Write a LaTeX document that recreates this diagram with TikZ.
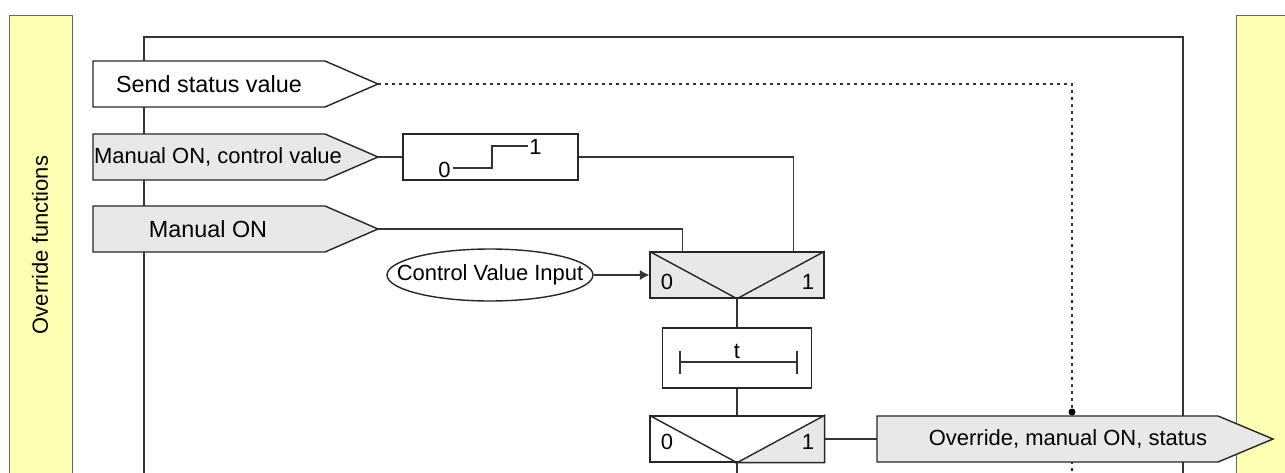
\documentclass[tikz,border=0pt]{standalone}
\usepackage{fontspec}
\setmainfont{Liberation Sans}
\usetikzlibrary{arrows.meta,shapes.geometric}

\definecolor{bandyellow}{HTML}{FFFFB4}
\definecolor{boxgray}{HTML}{E8E8E8}

\tikzset{
    wire/.style={draw=black!80, line width=0.6pt},
    boxline/.style={draw=black!85, line width=0.8pt},
    lbl/.style={font=\fontsize{12.5}{15}\selectfont, inner sep=0pt},
    biglbl/.style={font=\fontsize{13.3}{16}\selectfont, inner sep=0pt},
    digit/.style={font=\fontsize{12.5}{15}\selectfont, inner sep=0pt},
    muxbox/.style={boxline, rectangle, minimum width=3.48cm, minimum height=0.92cm, inner sep=0pt},
}

\begin{document}
\begin{tikzpicture}[x=0.02cm, y=-0.02cm]
    \clip (0,0) rectangle (1285,473);

    % Side bands
    \filldraw[fill=bandyellow, draw=black!60] (9,15) rectangle (72,490);
    \filldraw[fill=bandyellow, draw=black!60] (1236,15) rectangle (1300,490);
    \node[lbl, rotate=90] (band) at (40,245) {Override functions};

    % Frame
    \draw[wire] (144,480) -- (144,37) -- (1183,37) -- (1183,480);

    % Input signals
    \draw[boxline, fill=white] (93,61) -- ++(232,0) -- ++(53,23) coordinate (send tip) -- ++(-53,23) -- ++(-232,0) -- cycle;
    \node[biglbl] (send) at (209,84) {Send status value};
    \draw[boxline, fill=boxgray] (93,134) -- ++(232,0) -- ++(53,23) coordinate (ctrl tip) -- ++(-53,23) -- ++(-232,0) -- cycle;
    \node[lbl] (ctrl) at (218,157) {Manual ON, control value};
    \draw[boxline, fill=boxgray] (93,206) -- ++(232,0) -- ++(53,23) coordinate (man tip) -- ++(-53,23) -- ++(-232,0) -- cycle;
    \node[biglbl] (man) at (208,229) {Manual ON};

    % Step block
    \node[boxline, fill=white, minimum width=3.5cm, minimum height=0.92cm] (step) at (490.5,157) {};
    \draw[wire] (453,168) -- (492,168) -- (492,146) -- (528,146);
    \node[lbl, anchor=east] (s0) at (451,170) {0};
    \node[lbl, anchor=west] (s1) at (529,147) {1};
    \draw[wire] (ctrl tip) -- (step);

    % Selector
    \node[muxbox, fill=boxgray] (mux1) at (737,275) {};
    \draw[boxline] (mux1.north west) -- (mux1.south) -- (mux1.north east);
    \node[digit] (m1a) at (667,282) {0};
    \node[digit] (m1b) at (808,282) {1};
    \draw[wire] (man tip) -| ([xshift=0.66cm]mux1.north west);
    \draw[wire] (step.east) -| ([xshift=-0.62cm]mux1.north east);

    % Control value input
    \node[ellipse, boxline, lbl, minimum width=4.12cm, minimum height=1.04cm] (cvi) at (490,275) {\makebox[0pt]{Control Value Input}};
    \draw[wire, line width=1pt, -{Latex[length=0.19cm, width=0.21cm]}] (cvi) -- (mux1);

    % Delay
    \node[boxline, fill=white, minimum width=2.98cm, minimum height=1.2cm] (delay) at (737,358) {};
    \draw[wire] (680,362) -- (797,362);
    \draw[wire] (680,351) -- (680,374);
    \draw[wire] (797,351) -- (797,374);
    \node[digit, anchor=south] (dt) at (737,359) {t};
    \draw[wire] (mux1.south) -- (delay);

    % Output selector
    \node[muxbox, fill=white] (mux2) at (737,439) {};
    \filldraw[boxline, fill=boxgray] (mux2.south) -- (mux2.north east) -- (mux2.south east) -- cycle;
    \draw[boxline] (mux2.north west) -- (mux2.south);
    \node[digit] (m2a) at (667,442) {0};
    \node[digit] (m2b) at (808,442) {1};
    \draw[wire] (delay) -- (mux2);
    \draw[wire] (mux2.south) -- ++(0,20);

    % Status feedback
    \draw[wire, dash pattern=on 0.06cm off 0.08cm] (send tip) -- (1072,84) -- (1072,480);
    \fill (1072,412) circle (0.07cm);

    % Output signal
    \draw[boxline, fill=boxgray] (877,416) -- ++(341,0) -- ++(55,23) coordinate (ovr tip) -- ++(-55,23) -- ++(-341,0) -- cycle;
    \coordinate (ovr in) at (877,439);
    \node[lbl] (ovr) at (1068,439) {Override, manual ON, status};
    \draw[wire] (mux2.east) -- (ovr in);
\end{tikzpicture}
\end{document}
